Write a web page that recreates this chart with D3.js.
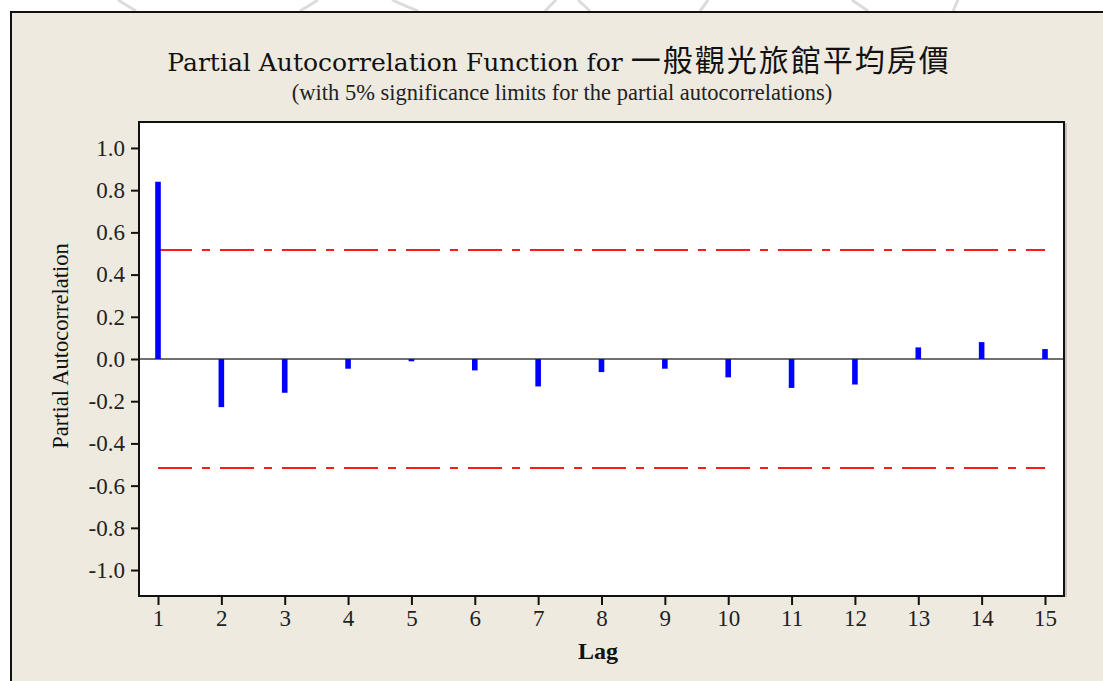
<!DOCTYPE html>
<html>
<head>
<meta charset="utf-8">
<script src="https://cdn.jsdelivr.net/npm/d3@7"></script>
<style>
  html, body { margin: 0; padding: 0; background: #ffffff; }
  svg { display: block; }
</style>
</head>
<body>
<svg id="chart" width="1103" height="681"></svg>
<script>
// Partial autocorrelation estimates by lag
const lags = [1, 2, 3, 4, 5, 6, 7, 8, 9, 10, 11, 12, 13, 14, 15];
const pacf = [0.84, -0.228, -0.16, -0.046, -0.011, -0.054, -0.13, -0.062, -0.046, -0.087, -0.137, -0.121, 0.055, 0.08, 0.047];
// 5% significance limit (±)
const sigLimit = 0.517;
// Tick labels
const yTicks = [-1.0, -0.8, -0.6, -0.4, -0.2, 0.0, 0.2, 0.4, 0.6, 0.8, 1.0];
const xTicks = lags;

const W = 1103, H = 681;
const plot = { left: 139, top: 122, right: 1064, bottom: 596 };

const svg = d3.select("#chart");

// Page background with faint seal strokes along the top edge
svg.append("rect").attr("x", 0).attr("y", 0).attr("width", W).attr("height", H).attr("fill", "#ffffff");
const seal = [
  "M118,0 L136,11", "M300,11 L318,0", "M392,0 Q405,6 418,11",
  "M545,11 L556,0", "M578,0 L590,11", "M700,11 L708,0",
  "M852,0 L868,11", "M953,11 L958,0"
];
svg.selectAll("path.seal").data(seal).join("path")
  .attr("class", "seal").attr("d", d => d)
  .attr("fill", "none").attr("stroke", "#dcdcdc").attr("stroke-width", 3);

// Outer graph region with border
svg.append("rect")
  .attr("x", 11).attr("y", 12).attr("width", W).attr("height", H)
  .attr("fill", "#eeeae0");
svg.append("path")
  .attr("d", `M11,${H} L11,12 L${W},12`)
  .attr("fill", "none").attr("stroke", "#111").attr("stroke-width", 2);

const x = d3.scaleLinear().domain([0.7, 15.3]).range([plot.left, plot.right]);
const y = d3.scaleLinear().domain([-1.123, 1.123]).range([plot.bottom, plot.top]);

// Data region
svg.append("rect")
  .attr("x", plot.left).attr("y", plot.top)
  .attr("width", plot.right - plot.left).attr("height", plot.bottom - plot.top)
  .attr("fill", "#ffffff");

// Zero reference line
svg.append("line")
  .attr("x1", plot.left).attr("x2", plot.right)
  .attr("y1", y(0)).attr("y2", y(0))
  .attr("stroke", "#404040").attr("stroke-width", 1.6);

// Significance limits
const limits = [sigLimit, -sigLimit];
svg.selectAll("line.limit").data(limits).join("line")
  .attr("class", "limit")
  .attr("x1", x(lags[0])).attr("x2", x(lags[lags.length - 1]))
  .attr("y1", d => y(d)).attr("y2", d => y(d))
  .attr("stroke", "#ff1a1a").attr("stroke-width", 2)
  .attr("stroke-dasharray", "34,10,8,10");

// PACF spikes
svg.selectAll("line.spike").data(lags).join("line")
  .attr("class", "spike")
  .attr("x1", d => x(d)).attr("x2", d => x(d))
  .attr("y1", y(0)).attr("y2", (d, i) => y(pacf[i]))
  .attr("stroke", "#0000ff").attr("stroke-width", 5.6);

// Frame
svg.append("rect")
  .attr("x", plot.left).attr("y", plot.top)
  .attr("width", plot.right - plot.left).attr("height", plot.bottom - plot.top)
  .attr("fill", "none").attr("stroke", "#111").attr("stroke-width", 2);
svg.append("line")
  .attr("x1", plot.right + 2).attr("x2", plot.right + 2)
  .attr("y1", plot.top + 1).attr("y2", plot.bottom + 1)
  .attr("stroke", "#9a9a9a").attr("stroke-width", 1);

const tickFont = "'Liberation Serif', 'Times New Roman', serif";

// Y axis
const yAxis = svg.append("g")
  .attr("transform", `translate(${plot.left},0)`)
  .call(d3.axisLeft(y).tickValues(yTicks).tickSize(8).tickPadding(6)
    .tickFormat(d => d.toFixed(1)));
yAxis.select(".domain").remove();
yAxis.selectAll(".tick line").attr("stroke", "#111").attr("stroke-width", 2);
yAxis.selectAll(".tick text")
  .attr("fill", "#222").style("font-family", tickFont).style("font-size", "23px");

// X axis
const xAxis = svg.append("g")
  .attr("transform", `translate(0,${plot.bottom})`)
  .call(d3.axisBottom(x).tickValues(xTicks).tickSize(9).tickPadding(5)
    .tickFormat(d3.format("d")));
xAxis.select(".domain").remove();
xAxis.selectAll(".tick line").attr("stroke", "#111").attr("stroke-width", 2);
xAxis.selectAll(".tick text")
  .attr("fill", "#222").style("font-family", tickFont).style("font-size", "23px");

// Axis titles
svg.append("text")
  .attr("transform", `translate(68,${(plot.top + plot.bottom) / 2 - 13}) rotate(-90)`)
  .attr("text-anchor", "middle")
  .style("font-family", tickFont).style("font-size", "22.5px").attr("fill", "#111")
  .text("Partial Autocorrelation");

svg.append("text")
  .attr("x", 598).attr("y", 659)
  .attr("text-anchor", "middle")
  .style("font-family", tickFont).style("font-size", "24px").style("font-weight", "bold").attr("fill", "#111")
  .text("Lag");

// Titles
const title = svg.append("text")
  .attr("x", 559).attr("y", 71)
  .attr("text-anchor", "middle")
  .attr("fill", "#111");
title.append("tspan")
  .style("font-family", "'DejaVu Serif', serif").style("font-size", "25px")
  .text("Partial Autocorrelation Function for ");
title.append("tspan")
  .style("font-family", "'Noto Sans CJK TC', sans-serif").style("font-size", "30px")
  .style("letter-spacing", "2px")
  .text("一般觀光旅館平均房價");

svg.append("text")
  .attr("x", 562).attr("y", 100)
  .attr("text-anchor", "middle")
  .style("font-family", tickFont).style("font-size", "22.5px").attr("fill", "#222")
  .text("(with 5% significance limits for the partial autocorrelations)");
</script>
</body>
</html>
